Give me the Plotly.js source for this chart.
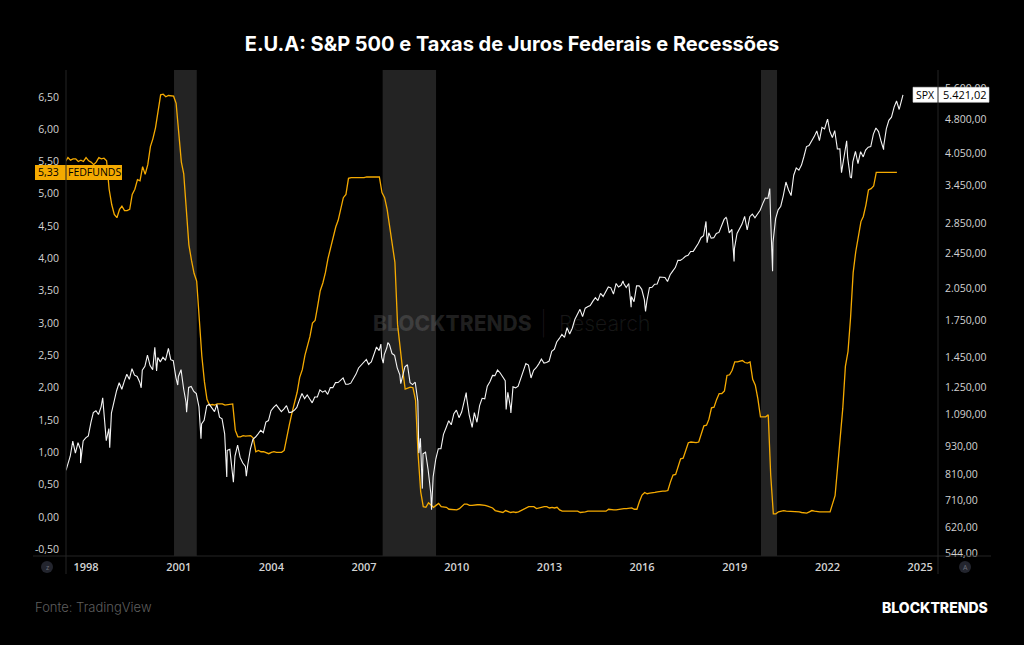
<!DOCTYPE html>
<html>
<head>
<meta charset="utf-8">
<script src="https://cdn.plot.ly/plotly-3.0.1.min.js"></script>
<style>
  html, body { margin: 0; padding: 0; background: #000; }
  #chart { width: 1024px; height: 645px; }
</style>
</head>
<body>
<div id="chart"></div>
<script>
// S&P 500 month-end closes, May 1997 .. May 2024
const spxMonthlyStart = '1997-05';
const spxMonthly = [
  848.28, 885.14, 954.31, 899.47, 947.28, 914.62, 955.40, 970.43,
  980.28, 1049.34, 1101.75, 1111.75, 1090.82, 1133.84, 1120.67, 957.28, 1017.01, 1098.67, 1163.63, 1229.23,
  1279.64, 1238.33, 1286.37, 1335.18, 1301.84, 1372.71, 1328.72, 1320.41, 1282.71, 1362.93, 1388.91, 1469.25,
  1394.46, 1366.42, 1498.58, 1452.43, 1420.60, 1454.60, 1430.83, 1517.68, 1436.51, 1429.40, 1314.95, 1320.28,
  1366.01, 1239.94, 1160.33, 1249.46, 1255.82, 1224.42, 1211.23, 1133.58, 1040.94, 1059.78, 1139.45, 1148.08,
  1130.20, 1106.73, 1147.39, 1076.92, 1067.14, 989.82, 911.62, 916.07, 815.28, 885.76, 936.31, 879.82,
  855.70, 841.15, 848.18, 916.92, 963.59, 974.50, 990.31, 1008.01, 995.97, 1050.71, 1058.20, 1111.92,
  1131.13, 1144.94, 1126.21, 1107.30, 1120.68, 1140.84, 1101.72, 1104.24, 1114.58, 1130.20, 1173.82, 1211.92,
  1181.27, 1203.60, 1180.59, 1156.85, 1191.50, 1191.33, 1234.18, 1220.33, 1228.81, 1207.01, 1249.48, 1248.29,
  1280.08, 1280.66, 1294.83, 1310.61, 1270.09, 1270.20, 1276.66, 1303.82, 1335.85, 1377.94, 1400.63, 1418.30,
  1438.24, 1406.82, 1420.86, 1482.37, 1530.62, 1503.35, 1455.27, 1473.99, 1526.75, 1549.38, 1481.14, 1468.36,
  1378.55, 1330.63, 1322.70, 1385.59, 1400.38, 1280.00, 1267.38, 1282.83, 1166.36, 968.75, 896.24, 903.25,
  825.88, 735.09, 797.87, 872.81, 919.14, 919.32, 987.48, 1020.62, 1057.08, 1036.19, 1095.63, 1115.10,
  1073.87, 1104.49, 1169.43, 1186.69, 1089.41, 1030.71, 1101.60, 1049.33, 1141.20, 1183.26, 1180.55, 1257.64,
  1286.12, 1327.22, 1325.83, 1363.61, 1345.20, 1320.64, 1292.28, 1218.89, 1131.42, 1253.30, 1246.96, 1257.60,
  1312.41, 1365.68, 1408.47, 1397.91, 1310.33, 1362.16, 1379.32, 1406.58, 1440.67, 1412.16, 1416.18, 1426.19,
  1498.11, 1514.68, 1569.19, 1597.57, 1630.74, 1606.28, 1685.73, 1632.97, 1681.55, 1756.54, 1805.81, 1848.36,
  1782.59, 1859.45, 1872.34, 1883.95, 1923.57, 1960.23, 1930.67, 2003.37, 1972.29, 2018.05, 2067.56, 2058.90,
  1994.99, 2104.50, 2067.89, 2085.51, 2107.39, 2063.11, 2103.84, 1972.18, 1920.03, 2079.36, 2080.41, 2043.94,
  1940.24, 1932.23, 2059.74, 2065.30, 2096.95, 2098.86, 2173.60, 2170.95, 2168.27, 2126.15, 2198.81, 2238.83,
  2278.87, 2363.64, 2362.72, 2384.20, 2411.80, 2423.41, 2470.30, 2471.65, 2519.36, 2575.26, 2647.58, 2673.61,
  2823.81, 2713.83, 2640.87, 2648.05, 2705.27, 2718.37, 2816.29, 2901.52, 2913.98, 2711.74, 2760.17, 2506.85,
  2704.10, 2784.49, 2834.40, 2945.83, 2752.06, 2941.76, 2980.38, 2926.46, 2976.74, 3037.56, 3140.98, 3230.78,
  3225.52, 2954.22, 2584.59, 2912.43, 3044.31, 3100.29, 3271.12, 3500.31, 3363.00, 3269.96, 3621.63, 3756.07,
  3714.24, 3811.15, 3972.89, 4181.17, 4204.11, 4297.50, 4395.26, 4522.68, 4307.54, 4605.38, 4567.00, 4766.18,
  4515.55, 4373.94, 4530.41, 4131.93, 4132.15, 3785.38, 4130.29, 3955.00, 3585.62, 3871.98, 4080.11, 3839.50,
  4076.60, 3970.15, 4109.31, 4169.48, 4179.83, 4450.38, 4588.96, 4507.66, 4288.05, 4193.80, 4567.80, 4769.83,
  4845.65, 5096.27, 5254.35, 5035.69, 5277.51
];

// Intra-month swing points of the S&P 500 (peaks, troughs and the latest print)
const spxSwingDates = [
  '1997-05-09', '1997-10-28', '1998-07-17', '1998-10-08', '1999-10-15', '2000-03-24', '2000-04-14',
  '2000-09-01', '2000-12-20', '2001-04-04', '2001-09-21', '2002-07-23', '2002-10-09', '2003-03-11',
  '2007-02-27', '2007-07-19', '2007-08-16', '2007-10-09', '2008-03-10', '2008-10-10', '2008-11-20',
  '2009-03-09', '2010-04-23', '2010-07-02', '2011-08-08', '2011-10-03', '2015-05-21', '2015-08-25',
  '2016-02-11', '2018-01-26', '2018-02-08', '2018-09-20', '2018-12-24', '2020-02-19', '2020-03-23',
  '2022-01-03', '2022-06-16', '2022-08-16', '2022-10-12', '2023-10-27', '2024-06-12'
];
const spxSwingValues = [
  824.78, 855.27, 1186.75, 923.32, 1247.41, 1527.46, 1356.56,
  1520.77, 1264.74, 1103.25, 965.80, 797.70, 776.76, 800.73,
  1399.04, 1553.08, 1411.27, 1565.15, 1273.37, 899.22, 752.44,
  676.53, 1217.28, 1022.58, 1119.46, 1099.23, 2130.82, 1867.61,
  1829.08, 2872.87, 2581.00, 2930.75, 2351.10, 3386.15, 2237.40,
  4796.56, 3666.77, 4305.20, 3577.03, 4117.37, 5421.02
];

// Effective federal funds rate (%), monthly averages, May 1997 .. Apr 2024
const fedMonthlyStart = '1997-05';
const fedFunds = [
  5.50, 5.56, 5.52, 5.54, 5.54, 5.50, 5.52, 5.50,
  5.56, 5.51, 5.49, 5.45, 5.49, 5.56, 5.54, 5.55, 5.51, 5.07, 4.83, 4.68,
  4.63, 4.76, 4.81, 4.74, 4.74, 4.76, 4.99, 5.07, 5.22, 5.20, 5.42, 5.30,
  5.45, 5.73, 5.85, 6.02, 6.27, 6.53, 6.54, 6.50, 6.52, 6.51, 6.51, 6.40,
  5.98, 5.49, 5.31, 4.80, 4.21, 3.97, 3.77, 3.65, 3.07, 2.49, 2.09, 1.82,
  1.73, 1.74, 1.73, 1.75, 1.75, 1.75, 1.73, 1.74, 1.75, 1.75, 1.34, 1.24,
  1.24, 1.26, 1.25, 1.26, 1.26, 1.22, 1.01, 1.03, 1.01, 1.01, 1.00, 0.98,
  1.00, 1.01, 1.00, 1.00, 1.00, 1.03, 1.26, 1.43, 1.61, 1.76, 1.93, 2.16,
  2.28, 2.50, 2.63, 2.79, 3.00, 3.04, 3.26, 3.50, 3.62, 3.78, 4.00, 4.16,
  4.29, 4.49, 4.59, 4.79, 4.94, 4.99, 5.24, 5.25, 5.25, 5.25, 5.25, 5.24,
  5.25, 5.26, 5.26, 5.25, 5.25, 5.25, 5.26, 5.02, 4.94, 4.76, 4.49, 4.24,
  3.94, 2.98, 2.61, 2.28, 1.98, 2.00, 2.01, 2.00, 1.81, 0.97, 0.39, 0.16,
  0.15, 0.22, 0.18, 0.15, 0.18, 0.21, 0.16, 0.16, 0.15, 0.12, 0.12, 0.12,
  0.11, 0.13, 0.16, 0.20, 0.20, 0.18, 0.18, 0.19, 0.19, 0.19, 0.19, 0.18,
  0.17, 0.16, 0.14, 0.10, 0.09, 0.09, 0.07, 0.10, 0.08, 0.07, 0.08, 0.07,
  0.08, 0.10, 0.13, 0.14, 0.16, 0.16, 0.16, 0.13, 0.14, 0.16, 0.16, 0.16,
  0.14, 0.15, 0.14, 0.15, 0.11, 0.09, 0.09, 0.08, 0.08, 0.09, 0.08, 0.09,
  0.07, 0.07, 0.08, 0.09, 0.09, 0.10, 0.09, 0.09, 0.09, 0.09, 0.09, 0.12,
  0.11, 0.11, 0.11, 0.12, 0.12, 0.13, 0.13, 0.14, 0.14, 0.12, 0.12, 0.24,
  0.34, 0.38, 0.36, 0.37, 0.37, 0.38, 0.39, 0.40, 0.40, 0.40, 0.41, 0.54,
  0.65, 0.66, 0.79, 0.90, 0.91, 1.04, 1.15, 1.16, 1.15, 1.15, 1.16, 1.30,
  1.41, 1.42, 1.51, 1.69, 1.70, 1.82, 1.91, 1.91, 1.95, 2.19, 2.20, 2.27,
  2.40, 2.40, 2.41, 2.42, 2.39, 2.38, 2.40, 2.13, 2.04, 1.83, 1.55, 1.55,
  1.55, 1.58, 0.65, 0.05, 0.05, 0.08, 0.09, 0.10, 0.09, 0.09, 0.09, 0.09,
  0.09, 0.08, 0.07, 0.07, 0.06, 0.08, 0.10, 0.09, 0.08, 0.08, 0.08, 0.08,
  0.08, 0.08, 0.20, 0.33, 0.77, 1.21, 1.68, 2.33, 2.56, 3.08, 3.78, 4.10,
  4.33, 4.57, 4.65, 4.83, 5.06, 5.08, 5.12, 5.33, 5.33, 5.33, 5.33, 5.33,
  5.33, 5.33, 5.33, 5.33
];

// Recession periods (shaded bands)
const recessionStarts = ['2000-11-06', '2007-08-09', '2019-11-07'];
const recessionEnds   = ['2001-08-02', '2009-05-01', '2020-05-15'];

// Axis ticks
const yearTicks = ['1998', '2001', '2004', '2007', '2010', '2013', '2016', '2019', '2022', '2025'];
const rateTicks = [-0.5, 0, 0.5, 1, 1.5, 2, 2.5, 3, 3.5, 4, 4.5, 5, 5.5, 6, 6.5];
const spxTicks = [544, 620, 710, 810, 930, 1090, 1250, 1450, 1750, 2050, 2450, 2850, 3450, 4050, 4800, 5600];

// ---- helpers ----
function monthDates(start, n, day) {
  const [y0, m0] = start.split('-').map(Number);
  const out = [];
  for (let i = 0; i < n; i++) {
    const t = (m0 - 1) + i;
    const y = y0 + Math.floor(t / 12);
    const m = (t % 12) + 1;
    out.push(y + '-' + String(m).padStart(2, '0') + '-' + day);
  }
  return out;
}
function ptBR(v, digits) {
  const s = v.toFixed(digits).split('.');
  const int = s[0].replace(/\B(?=(\d{3})+(?!\d))/g, '.');
  return digits ? int + ',' + s[1] : int;
}

// merge month-end closes with swing points, ordered by date
const spxPts = monthDates(spxMonthlyStart, spxMonthly.length, '28').map((d, i) => [d, spxMonthly[i]])
  .concat(spxSwingDates.map((d, i) => [d, spxSwingValues[i]]))
  .sort((a, b) => a[0] < b[0] ? -1 : a[0] > b[0] ? 1 : 0);
const spxX = spxPts.map(p => p[0]);
const spxY = spxPts.map(p => p[1]);
const fedX = monthDates(fedMonthlyStart, fedFunds.length, '01');

const spxLast = spxY[spxY.length - 1];
const fedLast = fedFunds[fedFunds.length - 1];

// ---- geometry ----
const W = 1024, H = 645;
const M = { l: 66, r: 86, t: 70, b: 89 };
const PW = W - M.l - M.r, PH = H - M.t - M.b;
const px = x => (x - M.l) / PW;          // pixel -> paper x
const py = y => (H - M.b - y) / PH;      // pixel -> paper y

const rateRange = [-0.603, 6.915];
const spxRange = [Math.log10(536.7), Math.log10(6138)];
const ratePaper = v => (v - rateRange[0]) / (rateRange[1] - rateRange[0]);
const spxPaper = v => (Math.log10(v) - spxRange[0]) / (spxRange[1] - spxRange[0]);

const ORANGE = '#F5AA00';
const AXIS_LINE = '#242424';
const TICK_COL = '#d2d2d2';
const WATERMARK = 'rgba(255,255,255,0.12)';

const traces = [
  {
    x: fedX, y: fedFunds, type: 'scatter', mode: 'lines', yaxis: 'y',
    line: { color: ORANGE, width: 1.3 }, name: 'FEDFUNDS', hoverinfo: 'skip'
  },
  {
    x: spxX, y: spxY, type: 'scatter', mode: 'lines', yaxis: 'y2',
    line: { color: '#f4f4f4', width: 1.1 }, name: 'SPX', hoverinfo: 'skip'
  }
];

const shapes = [];
recessionStarts.forEach((s, i) => {
  shapes.push({
    type: 'rect', xref: 'x', yref: 'paper', x0: s, x1: recessionEnds[i], y0: 0, y1: 1,
    fillcolor: '#232323', line: { width: 0 }, layer: 'below'
  });
});

// last-value tags
const fedC = ratePaper(fedLast), tagH = 7.5 / PH;
shapes.push({ type: 'rect', xref: 'paper', yref: 'paper', x0: px(35), x1: px(122),
  y0: fedC - tagH, y1: fedC + tagH, fillcolor: ORANGE, line: { width: 0 }, layer: 'above' });
const spxC = spxPaper(spxLast);
shapes.push({ type: 'rect', xref: 'paper', yref: 'paper', x0: px(913), x1: px(989),
  y0: spxC - tagH, y1: spxC + tagH, fillcolor: '#ffffff', line: { color: '#d8d8d8', width: 0.6 }, layer: 'above' });

// frame lines
shapes.push({ type: 'line', xref: 'paper', yref: 'paper', x0: px(66), x1: px(66), y0: 1, y1: py(574),
  line: { color: AXIS_LINE, width: 1 }, layer: 'above' });
shapes.push({ type: 'line', xref: 'paper', yref: 'paper', x0: px(938), x1: px(938), y0: 1, y1: py(574),
  line: { color: AXIS_LINE, width: 1 }, layer: 'above' });
shapes.push({ type: 'line', xref: 'paper', yref: 'paper', x0: px(33), x1: px(991), y0: 0, y1: 0,
  line: { color: AXIS_LINE, width: 1 }, layer: 'above' });

// small scale buttons
[[47, 'z'], [965, 'A']].forEach(([cx]) => {
  shapes.push({ type: 'circle', xref: 'paper', yref: 'paper', x0: px(cx - 6), x1: px(cx + 6),
    y0: py(573), y1: py(561), fillcolor: '#23252e', line: { width: 0 }, layer: 'above' });
});

const tagFont = { family: 'Open Sans, sans-serif', size: 10.5, color: '#000' };
const annotations = [
  { xref: 'paper', yref: 'paper', x: px(48), y: fedC, text: ptBR(fedLast, 2), showarrow: false,
    font: tagFont, xanchor: 'center', yanchor: 'middle' },
  { xref: 'paper', yref: 'paper', x: px(94), y: fedC, text: 'FEDFUNDS', showarrow: false,
    font: tagFont, xanchor: 'center', yanchor: 'middle' },
  { xref: 'paper', yref: 'paper', x: px(925.5), y: spxC, text: 'SPX', showarrow: false,
    font: tagFont, xanchor: 'center', yanchor: 'middle' },
  { xref: 'paper', yref: 'paper', x: px(964), y: spxC, text: ptBR(spxLast, 2), showarrow: false,
    font: Object.assign({}, tagFont, { size: 11 }), xanchor: 'center', yanchor: 'middle' },
  // watermark
  { xref: 'paper', yref: 'paper', x: px(371), y: py(323), text: 'BLOCKTRENDS', showarrow: false,
    font: { family: 'Inter, sans-serif', size: 21, color: WATERMARK, weight: 800 }, xanchor: 'left', yanchor: 'middle' },
  { xref: 'paper', yref: 'paper', x: px(543), y: py(323), text: '|', showarrow: false,
    font: { family: 'Inter, sans-serif', size: 24, color: 'rgba(255,255,255,0.09)', weight: 200 }, xanchor: 'center', yanchor: 'middle' },
  { xref: 'paper', yref: 'paper', x: px(557), y: py(323), text: 'Research', showarrow: false,
    font: { family: 'Inter, sans-serif', size: 21, color: 'rgba(255,255,255,0.09)', weight: 300 }, xanchor: 'left', yanchor: 'middle' },
  // footer
  { xref: 'paper', yref: 'paper', x: px(33), y: py(607), text: 'Fonte: TradingView', showarrow: false,
    font: { family: 'Inter, sans-serif', size: 13, color: '#5e5e5e', weight: 300 }, xanchor: 'left', yanchor: 'middle' },
  { xref: 'paper', yref: 'paper', x: px(990), y: py(607), text: 'BLOCKTRENDS', showarrow: false,
    font: { family: 'Inter, sans-serif', size: 14, color: '#ffffff', weight: 800 }, xanchor: 'right', yanchor: 'middle' },
  // scale buttons letters
  { xref: 'paper', yref: 'paper', x: px(47), y: py(567), text: 'z', showarrow: false,
    font: { family: 'Open Sans, sans-serif', size: 7, color: '#6a6d78' }, xanchor: 'center', yanchor: 'middle' },
  { xref: 'paper', yref: 'paper', x: px(965), y: py(567), text: 'A', showarrow: false,
    font: { family: 'Open Sans, sans-serif', size: 7, color: '#6a6d78' }, xanchor: 'center', yanchor: 'middle' }
];

const layout = {
  width: W, height: H,
  margin: M,
  paper_bgcolor: '#000000', plot_bgcolor: '#000000',
  showlegend: false,
  title: {
    text: '<b>E.U.A: S&P 500 e Taxas de Juros Federais e Recessões</b>',
    xref: 'container', x: 0.5, xanchor: 'center',
    yref: 'container', y: 1 - 44 / H, yanchor: 'middle',
    font: { family: 'Inter, sans-serif', size: 20, color: '#ffffff' }
  },
  xaxis: {
    type: 'date', range: ['1997-05-09', '2025-07-31'],
    tickmode: 'array', tickvals: yearTicks.map(y => y + '-01-01'), ticktext: yearTicks,
    showgrid: false, zeroline: false, showline: false, ticks: '',
    ticklabelstandoff: 3,
    tickfont: { family: 'Open Sans, sans-serif', size: 11, color: TICK_COL, weight: 600 }
  },
  yaxis: {
    range: rateRange, tickmode: 'array', tickvals: rateTicks,
    ticktext: rateTicks.map(v => ptBR(v, 2)),
    showgrid: false, zeroline: false, showline: false, ticks: '',
    ticklabelstandoff: 6,
    tickfont: { family: 'Open Sans, sans-serif', size: 10.5, color: TICK_COL }
  },
  yaxis2: {
    type: 'log', range: spxRange, overlaying: 'y', side: 'right',
    tickmode: 'array', tickvals: spxTicks, ticktext: spxTicks.map(v => ptBR(v, 2)),
    showgrid: false, zeroline: false, showline: false, ticks: '',
    ticklabelstandoff: 6,
    tickfont: { family: 'Open Sans, sans-serif', size: 10.5, color: TICK_COL }
  },
  shapes: shapes,
  annotations: annotations
};

Plotly.newPlot('chart', traces, layout, { displayModeBar: false, staticPlot: true });
</script>
</body>
</html>
